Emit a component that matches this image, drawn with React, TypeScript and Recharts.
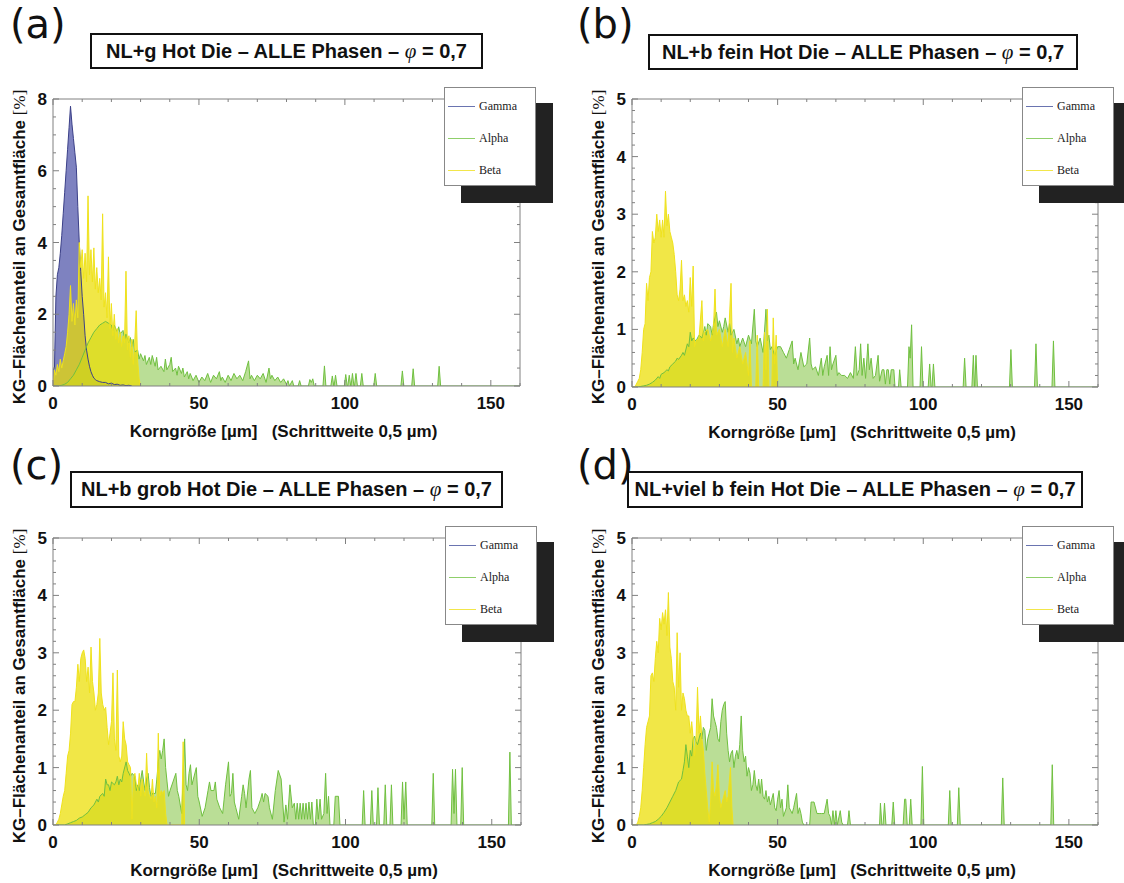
import React from 'react'
import { AreaChart, Area, XAxis, YAxis } from 'recharts'

type Pt = [number, number]
type Key = 'gamma' | 'alpha' | 'beta'

// tick values
const xTicks = [0, 10, 20, 30, 40, 50, 60, 70, 80, 90, 100, 110, 120, 130, 140, 150, 160]
const yTicks8 = [0, 0.5, 1, 1.5, 2, 2.5, 3, 3.5, 4, 4.5, 5, 5.5, 6, 6.5, 7, 7.5, 8]
const yTicks5 = [0, 0.2, 0.4, 0.6, 0.8, 1, 1.2, 1.4, 1.6, 1.8, 2, 2.2, 2.4, 2.6, 2.8, 3, 3.2, 3.4, 3.6, 3.8, 4, 4.2, 4.4, 4.6, 4.8, 5]

// (a) NL+g
const gammaA: Pt[] = [[0,0.45],[0.5,0.5],[1,2.5],[1.5,3.1],[2,3.3],[2.5,3.7],[3,4.2],[3.5,4.8],[4,5.4],[4.5,6.0],[5,6.6],[5.5,7.2],[6,7.8],[6.5,7.3],[7,6.9],[7.5,6.5],[8,6.1],[8.5,5.0],[9,4.0],[9.5,3.2],[10,2.5],[10.5,2.0],[11,1.4],[11.5,1.0],[12,0.75],[12.5,0.55],[13,0.4],[13.5,0.3],[14,0.22],[14.5,0.18],[15,0.15],[16,0.12],[17,0.1],[18,0.1],[19,0.06],[20,0.08],[21,0.04],[22,0.05],[23,0.02],[24,0.03],[25,0.01],[26,0.02],[27,0]]
const betaA: Pt[] = [[0,0],[0.5,0.45],[1,0.3],[1.5,0.6],[2,0.4],[2.5,0.75],[3,0.5],[3.5,0.7],[4,0.9],[4.5,1.1],[5,1.5],[5.5,2.0],[6,2.8],[6.5,1.8],[7,2.3],[7.5,1.7],[8,2.4],[8.5,1.9],[9,4.0],[9.5,3.3],[10,3.8],[10.5,3.0],[11,3.7],[11.5,2.9],[12,5.3],[12.5,3.1],[13,3.8],[13.5,2.9],[14,3.85],[14.5,2.7],[15,3.3],[15.5,2.6],[16,3.0],[16.5,2.4],[17,4.8],[17.5,2.2],[18,2.6],[18.5,1.9],[19,3.6],[19.5,1.6],[20,2.3],[20.5,1.4],[21,2.0],[21.5,1.3],[22,1.6],[22.5,1.2],[23,1.5],[23.5,1.1],[24,1.4],[24.5,1.2],[25,3.2],[25.5,1.0],[26,1.4],[26.5,0.8],[27,1.3],[27.5,0.6],[28,1.2],[28.5,2.1],[29,0.7],[29.5,0.2],[30,0]]
const alphaA: Pt[] = [[0,0],[2,0],[3,0.02],[4,0.05],[5,0.1],[6,0.2],[7,0.3],[8,0.45],[9,0.6],[10,0.8],[11,1.0],[12,1.2],[13,1.35],[14,1.5],[15,1.6],[16,1.7],[17,1.75],[18,1.8],[19,1.75],[20,1.7],[20.5,1.55],[21,1.7],[22,1.5],[22.5,1.65],[23,1.45],[24,1.55],[24.5,1.3],[25,1.45],[26,1.2],[26.5,1.35],[27,1.1],[27.5,1.3],[28,0.95],[29,1.0],[29.5,0.75],[30,0.9],[31,0.7],[31.5,0.85],[32,0.6],[33,0.8],[33.5,0.6],[34,0.85],[35,0.55],[35.5,0.8],[36,0.45],[37,0.55],[38,0.4],[38.5,0.75],[39,0.45],[40,0.6],[40.5,0.8],[41,0.4],[42,0.5],[42.5,0.3],[43,0.55],[44,0.35],[44.5,0.5],[45,0.25],[46,0.4],[46.5,0.2],[47,0.35],[48,0.15],[49,0.3],[50,0.1],[51,0.25],[52,0.15],[53,0.35],[54,0.1],[55,0.3],[56,0.2],[57,0.4],[57.5,0.15],[58,0.25],[59,0.1],[60,0.3],[61,0.15],[62,0.35],[63,0.2],[64,0.3],[65,0.15],[66,0.4],[67,0.7],[67.5,0.2],[68,0.3],[69,0.15],[70,0.3],[71,0.2],[72,0.35],[73,0.1],[74,0.5],[74.5,0.2],[75,0.3],[76,0.15],[77,0.25],[78,0.1],[79,0.2],[80,0.05],[80.5,0.15],[81,0],[82,0.15],[82.5,0],[84,0],[84.5,0.15],[85,0],[87.5,0],[88,0.18],[88.5,0.1],[89,0.2],[89.5,0],[92.5,0],[93,0.56],[93.5,0],[95.2,0],[95.7,0.28],[96.2,0],[96.3,0],[96.8,0.3],[97.3,0],[99.8,0],[100.3,0.32],[100.8,0],[101,0],[101.5,0.3],[102,0],[102.1,0],[102.6,0.35],[103.1,0],[103.3,0],[103.8,0.35],[104.3,0],[105.3,0],[105.8,0.35],[106.3,0],[109.9,0],[110.4,0.35],[110.9,0],[119.2,0],[119.7,0.42],[120.2,0],[122.9,0],[123.4,0.48],[123.9,0],[131.8,0],[132.3,0.55],[132.8,0],[160,0]]

// (b) NL+b fein
const betaB: Pt[] = [[0,0],[1,0],[1.5,0.05],[2,0.1],[2.5,0.15],[3,0.3],[3.5,0.6],[4,1.0],[4.5,1.1],[5,1.8],[5.5,1.5],[6,1.9],[6.5,2.0],[7,2.7],[7.5,2.5],[8,2.6],[8.5,3.0],[9,2.7],[9.5,2.9],[10,2.6],[10.5,2.9],[11,2.6],[11.5,3.4],[12,2.8],[12.5,3.0],[13,2.7],[13.5,2.6],[14,2.5],[14.5,2.3],[15,2.0],[15.5,1.6],[16,1.5],[16.5,1.7],[17,2.2],[17.5,1.5],[18,1.6],[18.5,1.4],[19,1.5],[19.5,1.3],[20,1.9],[20.5,1.4],[21,2.1],[21.5,0.7],[22,0.8],[23,0.85],[24,1.5],[24.5,0.8],[25,0.95],[26,1.0],[27,0.8],[28,1.05],[28.5,1.7],[29,0.9],[30,1.0],[31,0.7],[32,1.0],[33,0.7],[34,1.8],[34.5,0.6],[35,0.85],[36,0.5],[37,0.7],[38,0.4],[39,0.6],[40,0.2],[40.5,0.8],[41,0],[42.5,0],[43,0.9],[43.5,0],[45,0],[45.5,0.95],[46,0.3],[46.5,1.35],[47,0],[48,0],[48.5,1.2],[49,0.4],[49.5,0.9],[50,0]]
const alphaB: Pt[] = [[0,0],[2,0],[3,0.01],[4,0.02],[5,0.03],[6,0.05],[7,0.08],[8,0.12],[9,0.18],[9.5,0.15],[10,0.22],[11,0.25],[12,0.3],[12.5,0.28],[13,0.35],[14,0.4],[15,0.45],[15.5,0.5],[16,0.48],[17,0.55],[17.5,0.6],[18,0.55],[19,0.75],[19.5,0.7],[20,0.95],[20.5,0.8],[21,0.85],[22,0.8],[23,0.9],[24,0.85],[25,1.05],[25.5,0.9],[26,1.1],[27,1.05],[27.5,0.9],[28,1.1],[29,1.3],[29.5,1.05],[30,1.15],[31,0.95],[31.5,1.05],[32,1.2],[33,0.95],[33.5,1.1],[34,0.9],[35,1.0],[36,0.75],[36.5,0.85],[37,0.7],[38,0.85],[39,0.7],[40,0.9],[41,0.75],[42,1.35],[42.5,0.8],[43,0.7],[44,0.85],[45,0.6],[46,1.35],[46.5,0.8],[47,0.9],[47.5,0.65],[48,0.7],[49,0.55],[50,0.7],[51,0.7],[52,0.6],[53,0.5],[54,0.65],[55,0.8],[55.5,0.4],[56,0.5],[57,0.3],[58,0.6],[59,0.35],[60,0.4],[61,0.85],[61.5,0.4],[62,0.3],[63,0.35],[64,0.2],[65,0.5],[65.5,0.2],[66,0.35],[67,0.55],[67.5,0.2],[68,0.7],[68.5,0.3],[69,0.4],[70,0.55],[70.5,0.2],[71,0.25],[72,0.2],[73,0.2],[74,0.15],[75,0.25],[76,0.15],[76.7,0.7],[77.3,0.2],[78,0.3],[78.5,0.75],[79,0.2],[79.6,0.5],[80.2,0.15],[81,0.75],[81.5,0.3],[82.1,0.5],[82.8,0.15],[83.6,0.2],[84.5,0.55],[85,0.1],[85.9,0.3],[86.5,0.3],[87,0.05],[87.5,0.3],[88,0.3],[88.5,0.05],[89,0.3],[89.9,0.3],[90.3,0],[91.5,0],[91.9,0.3],[92.4,0],[94.6,0],[95.1,0.7],[95.5,0.5],[96,1.08],[96.5,0],[98.9,0],[99.4,0.7],[99.9,0],[101.7,0],[102.2,0.4],[102.7,0],[103,0],[103.5,0.4],[104,0],[113.7,0],[114.2,0.5],[114.7,0],[116.7,0],[117.2,0.55],[117.6,0],[117.7,0],[118.1,0.55],[118.6,0],[129.6,0],[130.1,0.65],[130.6,0],[138.2,0],[138.7,0.75],[139.2,0],[144.2,0],[144.7,0.8],[145.2,0],[160,0]]

// (c) NL+b grob
const betaC: Pt[] = [[0,0],[1,0],[1.5,0.05],[2,0.1],[2.5,0.2],[3,0.35],[3.5,0.5],[4,0.6],[4.5,0.9],[5,1.2],[5.5,1.3],[6,1.6],[6.5,2.1],[7,2.15],[7.5,2.15],[8,2.4],[8.5,2.8],[9,2.5],[9.5,2.9],[10,3.0],[10.5,3.05],[11,2.9],[11.5,2.5],[12,2.75],[12.5,2.3],[13,3.1],[13.5,2.5],[14,2.3],[14.5,2.0],[15,2.1],[15.5,2.3],[16,3.25],[16.5,2.3],[17,2.1],[17.5,2.0],[18,2.05],[18.5,1.7],[19,1.4],[19.5,1.6],[20,1.8],[20.5,2.65],[21,1.5],[21.5,1.3],[22,2.7],[22.5,1.2],[23,1.1],[23.5,1.2],[24,1.8],[24.5,1.5],[25,1.4],[25.5,1.1],[26,1.05],[26.5,1.0],[27,0.1],[27.5,0.8],[28,0.9],[28.5,0.7],[29,0.6],[29.5,0.9],[30,0.5],[30.5,0.8],[31,0.6],[31.5,0.5],[32,1.25],[32.5,0.6],[33,0.5],[33.5,0.45],[34,0.8],[34.5,0.4],[35,0.5],[35.5,0.3],[36,1.6],[36.5,0.5],[37,0.6],[37.5,0.55],[38,0.6],[38.5,0.2],[39,0],[44,0],[44.5,1.45],[45,0]]
const alphaC: Pt[] = [[0,0],[4,0],[5,0.02],[6,0.04],[7,0.06],[8,0.08],[9,0.12],[10,0.14],[11,0.18],[12,0.22],[13,0.3],[14,0.35],[15,0.45],[15.5,0.4],[16,0.5],[17,0.55],[17.5,0.5],[18,0.8],[18.5,0.7],[19,0.7],[19.5,0.6],[20,0.75],[21,0.7],[21.5,0.75],[22,0.85],[22.5,0.7],[23,0.8],[23.5,0.75],[24,0.9],[25,1.1],[25.5,0.95],[26,0.9],[26.5,0.85],[27,0.9],[28,0.85],[28.5,0.6],[29,0.7],[29.5,0.6],[30,0.8],[30.5,0.95],[31,0.75],[31.5,0.6],[32,0.8],[32.5,0.9],[33,0.65],[33.5,0.5],[34,0.55],[35,0.55],[35.5,0.8],[36,1.1],[36.5,1.3],[37,1.15],[37.5,1.3],[38,1.5],[38.5,1.0],[39,0.75],[39.5,0.5],[40,0.6],[41,0.75],[42,0.9],[42.5,0.6],[43,0.5],[44,0.2],[45,1.5],[45.5,0.7],[46,0.6],[46.5,0.9],[47,1.05],[47.5,0.7],[48,0.8],[49,1.0],[49.5,0.5],[50,0.4],[51,0.15],[52,0.3],[53,0.6],[53.5,0.75],[54,0.6],[55,0.6],[55.5,0.75],[56,0.45],[57,0.3],[58,0.2],[58.5,0.45],[59,0.7],[60,1.1],[60.5,0.5],[61,0.55],[61.5,0.9],[62,0.4],[62.5,0.3],[63.5,0.1],[64.5,0.5],[65,0.7],[65.5,0.55],[66,0.3],[67,0.8],[67.5,0.95],[68,0.3],[69,0.2],[70,0.3],[71,0.45],[71.5,0.55],[72,0.4],[72.5,0.55],[73.5,0.5],[74,0.3],[75,0.1],[76,0.6],[77,0.95],[78,0.8],[79,0.05],[79.6,0.35],[80.2,0.1],[81,0.7],[81.8,0.3],[82.5,0.38],[83,0.1],[83.5,0.38],[84,0.1],[84.5,0.38],[85,0.1],[85.5,0.38],[86,0.1],[86.5,0.38],[87,0.1],[87.5,0.4],[88,0.1],[88.5,0.4],[89,0],[89.7,0],[90.2,0.45],[90.7,0.1],[91.3,0.45],[91.8,0.1],[92.6,0.2],[93.2,0.9],[93.7,0.2],[94.2,0.5],[94.7,0],[96,0],[96.5,0.5],[97.6,0.5],[98.1,0],[105.7,0],[106.2,0.6],[106.7,0],[108.5,0],[109,0.6],[109.5,0],[110.6,0],[111.1,0.65],[111.6,0],[113.1,0],[113.6,0.7],[114.1,0],[115.2,0],[115.7,0.7],[116.2,0],[119,0],[119.5,0.75],[120,0.1],[120.6,0.75],[121.1,0],[129.5,0],[130,0.9],[130.5,0],[136.1,0],[136.6,0.97],[137.1,0.2],[137.6,0.97],[138.1,0],[139.4,0],[139.9,1.0],[140.4,0],[155.7,0],[156.2,1.27],[156.7,0],[160,0]]

// (d) NL+viel b fein
const betaD: Pt[] = [[0,0],[1.5,0],[2,0.05],[2.5,0.15],[3,0.3],[3.5,0.6],[4,1.0],[4.5,1.4],[5,1.7],[5.5,1.8],[6,1.9],[6.5,2.6],[7,2.65],[7.5,2.5],[8,2.9],[8.5,3.2],[9,3.0],[9.5,3.6],[10,3.4],[10.5,3.7],[11,3.5],[11.5,3.75],[12,3.3],[12.5,4.05],[13,3.1],[13.5,2.9],[14,2.5],[14.5,2.4],[15,2.0],[15.5,3.35],[16,2.4],[16.5,3.0],[17,2.0],[17.5,2.3],[18,2.2],[18.5,2.0],[19,1.9],[19.5,1.9],[20,1.6],[20.5,1.8],[21,1.5],[21.5,1.2],[22,1.5],[22.5,2.4],[23,1.6],[23.5,1.9],[24,1.5],[24.5,1.3],[25,0.9],[25.5,0.6],[26,0.3],[26.5,0.05],[27,0.4],[27.5,1.1],[28,0.6],[28.5,0.5],[29,0.7],[29.5,1.05],[30,0.5],[30.5,0.3],[31,0.4],[32,0.6],[32.5,0.4],[33,0.5],[33.8,1.0],[34.3,0.3],[34.7,0]]
const alphaD: Pt[] = [[0,0],[4,0],[5,0.01],[6,0.02],[7,0.04],[8,0.06],[9,0.1],[10,0.15],[11,0.22],[12,0.3],[13,0.4],[14,0.5],[15,0.6],[16,0.75],[17,0.8],[17.5,0.95],[18,1.1],[18.5,1.4],[19,1.2],[19.5,1.0],[20,1.3],[20.5,1.2],[21,1.5],[21.5,1.55],[22,1.45],[22.5,1.4],[23,1.5],[23.5,1.6],[24,1.5],[24.5,1.7],[25,1.65],[25.5,1.3],[26,1.5],[26.5,1.6],[27,1.7],[27.5,2.2],[28,1.9],[28.5,1.8],[29,1.7],[29.5,1.5],[30,1.45],[30.5,1.8],[31,2.0],[31.5,2.1],[32,2.15],[32.5,1.6],[33,1.3],[33.5,1.1],[34,1.25],[34.5,1.3],[35,1.0],[35.5,1.2],[36,1.3],[36.5,1.15],[37,1.4],[37.5,1.9],[38,1.3],[38.5,1.1],[39,1.2],[39.5,0.85],[40,1.0],[40.5,0.9],[41,0.6],[41.5,0.7],[42,0.95],[42.5,0.7],[43,0.6],[43.5,0.8],[44,0.55],[44.5,0.8],[45,0.5],[45.5,0.45],[46,0.6],[46.5,0.4],[47,0.5],[47.5,0.35],[48,0.45],[48.5,0.55],[49,0.3],[49.5,0.25],[50,0.45],[50.5,0.6],[51,0.3],[51.5,0.45],[52,0.15],[53,0.3],[53.5,0.7],[54,0.3],[55,0.2],[55.5,0.3],[56.5,0.55],[57,0.2],[57.5,0.3],[58,0.2],[58.5,0.05],[59,0],[61,0],[61.5,0.4],[62,0.4],[62.5,0.4],[63.5,0.2],[64.5,0.2],[65,0.2],[66,0.2],[67,0.45],[67.5,0.2],[68,0.15],[68.5,0],[69,0.25],[69.5,0],[70,0.25],[70.5,0],[71.5,0.25],[72,0.05],[72.5,0],[74,0],[74.5,0.25],[75,0],[85,0],[85.3,0.38],[85.8,0],[86.2,0],[86.7,0.38],[87.2,0],[89.2,0],[89.7,0.4],[90.2,0],[93.1,0],[93.6,0.45],[94,0.45],[94.5,0],[95.2,0],[95.7,0.45],[96.2,0],[99.2,0],[99.7,1.02],[100.2,0],[108.6,0],[109.1,0.6],[109.6,0],[111.7,0],[112.2,0.65],[112.7,0],[126.8,0],[127.3,0.82],[127.8,0],[143.8,0],[144.3,1.05],[144.8,0],[160,0]]

const SERIES: { key: Key; name: string; fill: string; opacity: number; stroke: string; legend: string }[] = [
  { key: 'gamma', name: 'Gamma', fill: '#4c52a8', opacity: 0.72, stroke: '#3b4088', legend: '#6a74b0' },
  { key: 'alpha', name: 'Alpha', fill: '#8cc850', opacity: 0.6, stroke: '#70c040', legend: '#8fcf6a' },
  { key: 'beta', name: 'Beta', fill: '#ebde00', opacity: 0.72, stroke: '#efe21c', legend: '#f2e64a' },
]

const SANS = '"Liberation Sans", Arial, Helvetica, sans-serif'
const SERIF = '"Liberation Serif", "Times New Roman", serif'
const AXIS = '#808080'

function buildRows(parts: Partial<Record<Key, Pt[]>>) {
  const map = new Map<number, any>()
  Object.entries(parts).forEach(([k, pts]) => {
    pts!.forEach(([x, y]) => {
      const r = map.get(x) ?? { x }
      r[k] = y
      map.set(x, r)
    })
  })
  return [...map.values()].sort((a, b) => a.x - b.x)
}

const isMult = (v: number, s: number) => Math.abs(v / s - Math.round(v / s)) < 1e-6

function BottomTick({ x, y, payload }: any) {
  const major = isMult(payload.value, 50)
  return (
    <g>
      <line x1={x} y1={y} x2={x} y2={y - (major ? 6 : 3)} stroke={AXIS} />
      {major && (
        <text x={x} y={y + 23} textAnchor="middle" fontFamily={SANS} fontWeight="bold" fontSize={17} fill="#111">
          {payload.value}
        </text>
      )}
    </g>
  )
}

function TopTick({ x, y, payload }: any) {
  const major = isMult(payload.value, 50)
  return <line x1={x} y1={y} x2={x} y2={y + (major ? 6 : 3)} stroke={AXIS} />
}

function LeftTick({ x, y, payload, step }: any) {
  const major = isMult(payload.value, step)
  return (
    <g>
      <line x1={x} y1={y} x2={x + (major ? 6 : 3)} y2={y} stroke={AXIS} />
      {major && (
        <text x={x - 6} y={y + 6} textAnchor="end" fontFamily={SANS} fontWeight="bold" fontSize={17} fill="#111">
          {payload.value}
        </text>
      )}
    </g>
  )
}

function RightTick({ x, y, payload, step }: any) {
  const major = isMult(payload.value, step)
  return <line x1={x} y1={y} x2={x - (major ? 6 : 3)} y2={y} stroke={AXIS} />
}

type PanelProps = {
  letter: string
  title: string
  letterPos: [number, number]
  titleBox: [number, number, number, number]
  plot: [number, number, number, number]
  yMax: number
  yTicks: number[]
  yStep: number
  parts: Partial<Record<Key, Pt[]>>
}

const ML = 45, MT = 10, MR = 10, MB = 30

function Panel({ letter, title, letterPos, titleBox, plot, yMax, yTicks, yStep, parts }: PanelProps) {
  const [pl, pt, pw, ph] = plot
  const rows = buildRows(parts)
  const shown = SERIES.filter(s => parts[s.key])
  const W = pw + ML + MR + 2
  const H = ph + MT + MB + 2
  const pr = pl + pw
  return (
    <>
      <div style={{ position: 'absolute', left: letterPos[0], top: letterPos[1], fontFamily: '"DejaVu Sans", sans-serif', fontSize: 40, lineHeight: 1, color: '#111' }}>
        {letter}
      </div>
      <div
        style={{
          position: 'absolute', left: titleBox[0], top: titleBox[1], width: titleBox[2], height: titleBox[3],
          border: '2px solid #111', boxSizing: 'border-box', display: 'flex', alignItems: 'center', justifyContent: 'center',
          fontFamily: SANS, fontWeight: 'bold', fontSize: 20, color: '#111', whiteSpace: 'pre', background: '#fff',
        }}
      >
        {title}
        <span style={{ fontFamily: SERIF, fontStyle: 'italic', fontWeight: 'normal', fontSize: 21 }}>φ</span>
        {' = 0,7'}
      </div>
      <div style={{ position: 'absolute', left: pl - ML - 1, top: pt - MT - 1 }}>
        <AreaChart width={W} height={H} data={rows} margin={{ top: MT, right: MR, bottom: MB, left: ML }}>
          <XAxis dataKey="x" type="number" domain={[0, 160]} ticks={xTicks} interval={0} allowDataOverflow
            height={1} tickSize={0} tickMargin={0} tickLine={false} axisLine={{ stroke: AXIS }} tick={<BottomTick />} />
          <XAxis xAxisId="top" orientation="top" dataKey="x" type="number" domain={[0, 160]} ticks={xTicks} interval={0} allowDataOverflow
            height={1} tickSize={0} tickMargin={0} tickLine={false} axisLine={{ stroke: AXIS }} tick={<TopTick />} />
          <YAxis type="number" domain={[0, yMax]} ticks={yTicks} interval={0} allowDataOverflow
            width={1} tickSize={0} tickMargin={0} tickLine={false} axisLine={{ stroke: AXIS }} tick={(p: any) => <LeftTick {...p} step={yStep} />} />
          <YAxis yAxisId="right" orientation="right" type="number" domain={[0, yMax]} ticks={yTicks} interval={0} allowDataOverflow
            width={1} tickSize={0} tickMargin={0} tickLine={false} axisLine={{ stroke: AXIS }} tick={(p: any) => <RightTick {...p} step={yStep} />} />
          {shown.map(s => (
            <Area key={'f' + s.key} dataKey={s.key} type="linear" stroke="none" fill={s.fill} fillOpacity={s.opacity}
              connectNulls dot={false} activeDot={false} isAnimationActive={false} />
          ))}
          {shown.map(s => (
            <Area key={'l' + s.key} dataKey={s.key} type="linear" stroke={s.stroke} strokeWidth={1} fill="none"
              connectNulls dot={false} activeDot={false} isAnimationActive={false} />
          ))}
        </AreaChart>
      </div>
      {/* legend with drop shadow */}
      <div style={{ position: 'absolute', left: pr - 59, top: pt + 4, width: 92, height: 100, background: '#222' }} />
      <div style={{ position: 'absolute', left: pr - 76, top: pt - 12, width: 92, height: 99, background: '#fff', border: '1px solid #888', boxSizing: 'border-box' }}>
        {SERIES.map((s, i) => (
          <div key={s.key} style={{ position: 'absolute', left: 3, top: 10 + i * 32, height: 16, display: 'flex', alignItems: 'center' }}>
            <span style={{ display: 'inline-block', width: 27, height: 1, background: s.legend }} />
            <span style={{ marginLeft: 4, fontFamily: SERIF, fontSize: 12, color: '#222' }}>{s.name}</span>
          </div>
        ))}
      </div>
      {/* axis titles */}
      <div
        style={{
          position: 'absolute', left: pl - 33 - 200, top: pt + ph / 2 + 4 - 10, width: 400, height: 20, lineHeight: '20px',
          transform: 'rotate(-90deg)', textAlign: 'center', whiteSpace: 'nowrap',
          fontFamily: SANS, fontWeight: 'bold', fontSize: 17, color: '#111',
        }}
      >
        KG–Flächenanteil an Gesamtfläche <span style={{ fontFamily: SERIF, fontWeight: 'normal' }}>[%]</span>
      </div>
      <div
        style={{
          position: 'absolute', left: pl + pw / 2 - 3 - 250, top: pt + ph + 46 - 10, width: 500, height: 20, lineHeight: '20px',
          textAlign: 'center', whiteSpace: 'pre', fontFamily: SANS, fontWeight: 'bold', fontSize: 17, color: '#111',
        }}
      >
        {'Korngröße [µm]   (Schrittweite 0,5 µm)'}
      </div>
    </>
  )
}

export default function App() {
  return (
    <div style={{ position: 'absolute', left: 0, top: 0, width: 1124, height: 883, overflow: 'hidden', background: '#fff' }}>
      <Panel letter="(a)" title="NL+g Hot Die – ALLE Phasen – " letterPos={[10, 4]} titleBox={[90, 33, 393, 36]}
        plot={[53, 99, 467, 287]} yMax={8} yTicks={yTicks8} yStep={2}
        parts={{ gamma: gammaA, alpha: alphaA, beta: betaA }} />
      <Panel letter="(b)" title="NL+b fein Hot Die – ALLE Phasen – " letterPos={[577, 4]} titleBox={[648, 34, 430, 36]}
        plot={[632, 99, 466, 288]} yMax={5} yTicks={yTicks5} yStep={1}
        parts={{ alpha: alphaB, beta: betaB }} />
      <Panel letter="(c)" title="NL+b grob Hot Die – ALLE Phasen – " letterPos={[10, 445]} titleBox={[70, 471, 433, 37]}
        plot={[53, 538, 468, 287]} yMax={5} yTicks={yTicks5} yStep={1}
        parts={{ alpha: alphaC, beta: betaC }} />
      <Panel letter="(d)" title="NL+viel b fein Hot Die – ALLE Phasen – " letterPos={[577, 445]} titleBox={[627, 471, 456, 37]}
        plot={[632, 538, 466, 287]} yMax={5} yTicks={yTicks5} yStep={1}
        parts={{ alpha: alphaD, beta: betaD }} />
    </div>
  )
}
